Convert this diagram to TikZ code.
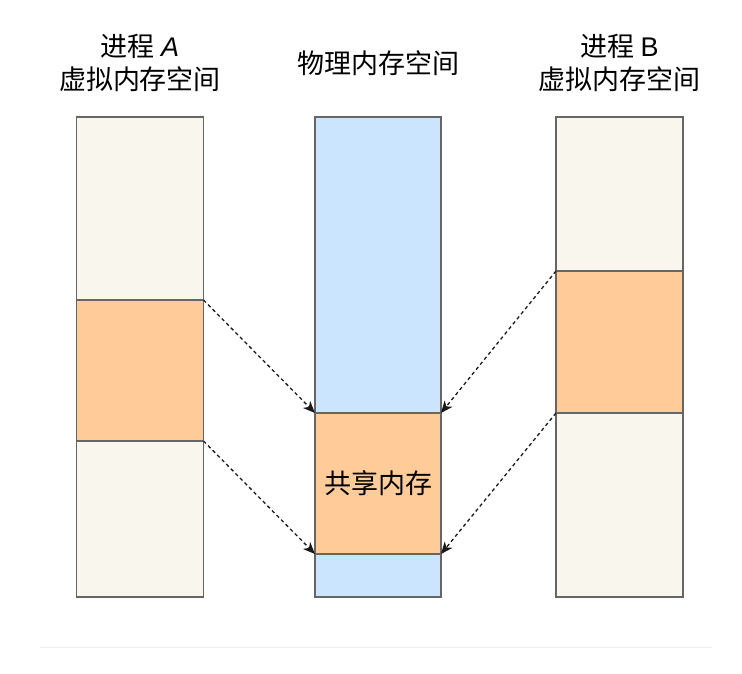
\documentclass[tikz,border=0pt]{standalone}
\usepackage{fontspec}
\setmainfont{Noto Sans CJK SC}
\newfontfamily\latinit{Liberation Sans}
\usetikzlibrary{arrows.meta}
\definecolor{beige}{HTML}{F9F7ED}
\definecolor{shared}{HTML}{FFCC99}
\definecolor{phys}{HTML}{CCE5FF}
\definecolor{edge}{HTML}{666666}
\definecolor{rule}{HTML}{EEEEEE}
\begin{document}
\begin{tikzpicture}[x=1pt,y=-1pt,
  seg/.style={draw=edge, line width=1.2pt, inner sep=0pt, outer sep=0pt, minimum width=#1},
  seg/.default=127pt,
  lbl/.style={font=\fontsize{27}{33}\selectfont, align=center, inner sep=0pt},
  map/.style={dash pattern=on 3.5pt off 3pt, line width=1.3pt, black!90, -{Stealth[length=12pt,width=10pt,inset=3.5pt]}}
]
\useasboundingbox (0,0) rectangle (742,673);
% process A
\node[seg, fill=beige, minimum height=183pt] (atop) at (140,208.5) {};
\node[seg, fill=shared, minimum height=141pt] (amid) at (140,370.5) {};
\node[seg, fill=beige, minimum height=156pt] (abot) at (140,519) {};
% physical
\node[seg=126pt, fill=phys, minimum height=296pt] (ptop) at (378,265) {};
\node[seg=126pt, fill=shared, minimum height=141pt, font=\fontsize{27}{33}\selectfont] (pmid) at (378,483.5) {\raisebox{-3pt}{共享内存}};
\node[seg=126pt, fill=phys, minimum height=43pt] (pbot) at (378,575.5) {};
% process B
\node[seg, fill=beige, minimum height=154pt] (btop) at (619.5,194) {};
\node[seg, fill=shared, minimum height=142pt] (bmid) at (619.5,342) {};
\node[seg, fill=beige, minimum height=184pt] (bbot) at (619.5,505) {};
% labels
\node[lbl] (la) at (140,63) {进程 {\latinit\itshape A}\\虚拟内存空间};
\node[lbl] (lp) at (378,63) {物理内存空间};
\node[lbl] (lb) at (619.5,63) {进程 {\latinit B}\\虚拟内存空间};
% mappings
\draw[map] (amid.north east) -- (pmid.north west);
\draw[map] (amid.south east) -- (pmid.south west);
\draw[map] (bmid.north west) -- (pmid.north east);
\draw[map] (bmid.south west) -- (pmid.south east);
% bottom rule
\coordinate (r1) at (40,647);
\coordinate (r2) at (712,647);
\draw[rule, line width=1pt] (r1) -- (r2);
\end{tikzpicture}
\end{document}
